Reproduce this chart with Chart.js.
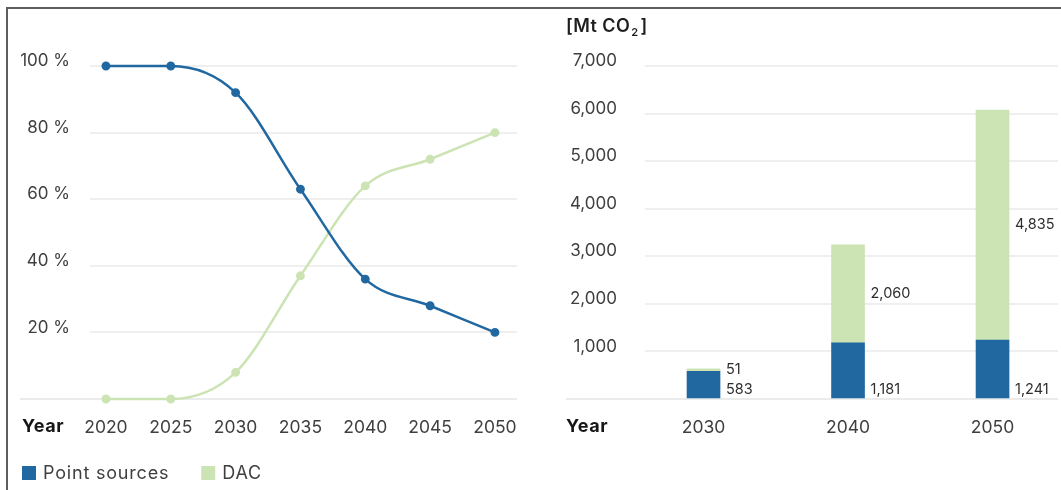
<!DOCTYPE html>
<html>
<head>
<meta charset="utf-8">
<script src="https://cdn.jsdelivr.net/npm/chart.js@4.4.1/dist/chart.umd.min.js"></script>
<style>
  html, body { margin: 0; padding: 0; background: #fff; }
  #frame { position: absolute; left: 0; top: 0; width: 1061px; height: 490px; overflow: hidden; }
  #frame::before { content: ''; position: absolute; left: 6px; top: 7px; right: -4px; bottom: -4px;
    border-top: 2px solid #5e5e5e; border-left: 2px solid #5e5e5e; }
  .panel { position: absolute; top: 0; height: 490px; }
  #leftPanel { left: 0; width: 540px; }
  #rightPanel { left: 540px; width: 521px; }
</style>
</head>
<body>
<div id="frame">
  <div class="panel" id="leftPanel"><canvas id="shareChart"></canvas></div>
  <div class="panel" id="rightPanel"><canvas id="volumeChart"></canvas></div>
</div>
<script>
// ---- data ----
const shareYears = [2020, 2025, 2030, 2035, 2040, 2045, 2050];
const pointSourcesShare = [100, 100, 92, 63, 36, 28, 20];
const dacShare = [0, 0, 8, 37, 64, 72, 80];
const shareTicks = [20, 40, 60, 80, 100];

const volumeYears = [2030, 2040, 2050];
const pointSourcesMt = [583, 1181, 1241];
const dacMt = [51, 2060, 4835];
const volumeTicks = [1000, 2000, 3000, 4000, 5000, 6000, 7000];

const seriesNames = ['Point sources', 'DAC'];

// ---- style ----
const BLUE = '#2168a1';
const GREEN = '#cce3b4';
const TEXT = '#3f3f3f';
const GRID = '#efefef';
const FONT = 'Inter, "Open Sans", sans-serif';

Chart.defaults.font.family = FONT;
Chart.defaults.color = TEXT;

const fmt = v => v.toLocaleString('en-US');

// baseline that runs under the y labels, plus the bold "Year" caption
function baselinePlugin(startX, yearX) {
  return {
    id: 'baseline',
    beforeDatasetsDraw(chart) {
      const { ctx, chartArea, scales } = chart;
      const y0 = scales.y.getPixelForValue(0);
      ctx.save();
      ctx.strokeStyle = '#ebebeb';
      ctx.lineWidth = 2;
      ctx.beginPath();
      ctx.moveTo(startX, y0);
      ctx.lineTo(chartArea.right, y0);
      ctx.stroke();
      ctx.restore();
    },
    afterDraw(chart) {
      const { ctx, chartArea } = chart;
      ctx.save();
      ctx.font = '700 18px ' + FONT;
      ctx.letterSpacing = '0.6px';
      ctx.fillStyle = '#161616';
      ctx.textAlign = 'left';
      ctx.textBaseline = 'middle';
      ctx.fillText('Year', yearX, chartArea.bottom + 28);
      ctx.restore();
    }
  };
}

// legend row under the share chart
const legendRow = {
  id: 'legendRow',
  afterDraw(chart) {
    const { ctx } = chart;
    const colors = [BLUE, GREEN];
    let x = 22;
    const y = 473;
    ctx.save();
    ctx.font = '400 18px ' + FONT;
    ctx.letterSpacing = '0.8px';
    ctx.textBaseline = 'middle';
    ctx.textAlign = 'left';
    seriesNames.forEach((name, i) => {
      ctx.fillStyle = colors[i];
      ctx.fillRect(x, y - 7, 14, 14);
      ctx.fillStyle = TEXT;
      ctx.fillText(name, x + 21, y + 1);
      x = x + 21 + ctx.measureText(name).width + 32;
    });
    ctx.restore();
  }
};

// value labels to the right of each stacked segment
const barValueLabels = {
  id: 'barValueLabels',
  afterDatasetsDraw(chart) {
    const { ctx } = chart;
    ctx.save();
    ctx.font = '400 14.5px ' + FONT;
    ctx.fillStyle = '#2e2e2e';
    ctx.textAlign = 'left';
    ctx.textBaseline = 'middle';
    chart.data.datasets.forEach((ds, di) => {
      const meta = chart.getDatasetMeta(di);
      meta.data.forEach((bar, i) => {
        const x = bar.x + bar.width / 2 + 6;
        const y = di === 0 ? bar.base - 8 : (bar.y + bar.base) / 2;
        ctx.fillText(fmt(ds.data[i].y), x, y);
      });
    });
    ctx.restore();
  }
};

// unit caption above the volume axis
const unitCaption = {
  id: 'unitCaption',
  afterDraw(chart) {
    const { ctx } = chart;
    ctx.save();
    ctx.fillStyle = '#1e1e1e';
    ctx.textBaseline = 'middle';
    ctx.textAlign = 'left';
    ctx.font = '600 18px ' + FONT;
    ctx.letterSpacing = '0.4px';
    let x = 26;
    const y = 27;
    ctx.fillText('[Mt CO', x, y);
    x += ctx.measureText('[Mt CO').width;
    ctx.font = '600 11px ' + FONT;
    ctx.fillText('2', x + 1, y + 6);
    x += ctx.measureText('2').width + 3;
    ctx.font = '600 18px ' + FONT;
    ctx.fillText(']', x, y);
    ctx.restore();
  }
};

// ---- share of capture sources (lines) ----
new Chart(document.getElementById('shareChart'), {
  type: 'line',
  data: {
    datasets: [
      {
        label: seriesNames[0],
        data: shareYears.map((yr, i) => ({ x: yr, y: pointSourcesShare[i] })),
        borderColor: BLUE, backgroundColor: BLUE,
        borderWidth: 2.5, pointRadius: 3.2, pointHoverRadius: 3.2,
        cubicInterpolationMode: 'monotone', clip: false
      },
      {
        label: seriesNames[1],
        data: shareYears.map((yr, i) => ({ x: yr, y: dacShare[i] })),
        borderColor: GREEN, backgroundColor: GREEN,
        borderWidth: 2.5, pointRadius: 3.2, pointHoverRadius: 3.2,
        cubicInterpolationMode: 'monotone', clip: false
      }
    ]
  },
  options: {
    responsive: true, maintainAspectRatio: false, animation: false,
    layout: { padding: { top: 66, left: 0, right: 23, bottom: 0 } },
    plugins: { legend: { display: false }, tooltip: { enabled: false } },
    scales: {
      x: {
        type: 'linear', min: 2018.77, max: 2051.7, offset: false,
        afterBuildTicks: s => { s.ticks = shareYears.map(v => ({ value: v })); },
        afterFit: s => { s.height = 91; },
        grid: { display: false, drawTicks: false }, border: { display: false },
        ticks: { padding: 18, font: { size: 17.5 }, color: TEXT, callback: v => String(v) }
      },
      y: {
        min: 0, max: 100,
        afterBuildTicks: s => { s.ticks = [0].concat(shareTicks).map(v => ({ value: v })); },
        afterFit: s => { s.width = 90; },
        grid: { color: GRID, lineWidth: 2, drawTicks: false }, border: { display: false },
        ticks: { padding: 20, labelOffset: -5, font: { size: 17 }, color: TEXT,
          callback: v => (v === 0 ? '' : v + ' %') }
      }
    }
  },
  plugins: [baselinePlugin(20, 22), legendRow]
});

// ---- captured volume (stacked bars) ----
new Chart(document.getElementById('volumeChart'), {
  type: 'bar',
  data: {
    datasets: [
      {
        label: seriesNames[0],
        data: volumeYears.map((yr, i) => ({ x: yr, y: pointSourcesMt[i] })),
        backgroundColor: BLUE, barThickness: 33
      },
      {
        label: seriesNames[1],
        data: volumeYears.map((yr, i) => ({ x: yr, y: dacMt[i] })),
        backgroundColor: GREEN, barThickness: 33
      }
    ]
  },
  options: {
    responsive: true, maintainAspectRatio: false, animation: false,
    layout: { padding: { top: 66, left: 0, right: 3, bottom: 0 } },
    plugins: { legend: { display: false }, tooltip: { enabled: false } },
    scales: {
      x: {
        type: 'linear', stacked: true, min: 2025.95, max: 2054.53, offset: false,
        afterBuildTicks: s => { s.ticks = volumeYears.map(v => ({ value: v })); },
        afterFit: s => { s.height = 91; },
        grid: { display: false, drawTicks: false }, border: { display: false },
        ticks: { padding: 18, font: { size: 17.5 }, color: TEXT, callback: v => String(v) }
      },
      y: {
        stacked: true, min: 0, max: 7000,
        afterBuildTicks: s => { s.ticks = [0].concat(volumeTicks).map(v => ({ value: v })); },
        afterFit: s => { s.width = 105; },
        grid: { color: GRID, lineWidth: 2, drawTicks: false }, border: { display: false },
        ticks: { padding: 28, labelOffset: -5, font: { size: 17 }, color: TEXT,
          callback: v => (v === 0 ? '' : fmt(v)) }
      }
    }
  },
  plugins: [baselinePlugin(26, 26), barValueLabels, unitCaption]
});
</script>
</body>
</html>
